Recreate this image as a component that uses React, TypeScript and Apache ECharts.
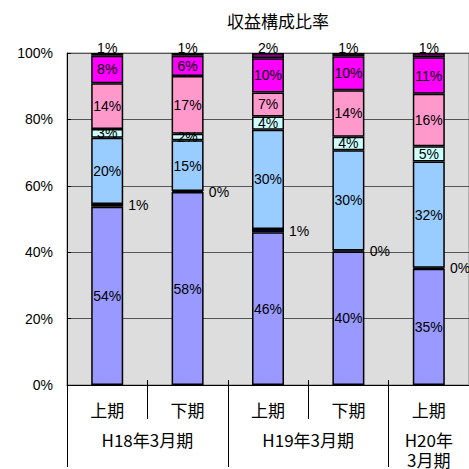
import React, { useEffect, useRef } from "react";
import * as echarts from "echarts";

const titleText = "収益構成比率";
const categories = ["上期", "下期", "上期", "下期", "上期"];
const groupNames = ["H18年3月期", "H19年3月期", "H20年\n3月期"];
const groupSpans = [2, 2, 1];

const seriesNames = ["区分A", "区分B", "区分C", "区分D", "区分E", "区分F", "区分G"];
const seriesColors = ["#9999FF", "#0000CC", "#99CCFF", "#CCFFFF", "#FF99CC", "#FF00FF", "#800080"];
const sA = [53.7, 58.1, 46.0, 40.2, 35.0];
const sB = [0.8, 0.3, 1.0, 0.3, 0.3];
const sC = [20.0, 15.3, 29.9, 30.2, 32.0];
const sD = [2.6, 2.0, 4.0, 4.1, 4.6];
const sE = [13.8, 17.4, 7.2, 14.0, 15.8];
const sF = [8.3, 6.1, 10.3, 10.2, 11.0];
const sG = [0.8, 0.8, 1.6, 1.0, 1.3];
const seriesValues = [sA, sB, sC, sD, sE, sF, sG];
const labelPositions = ["inside", "right", "inside", "inside", "inside", "inside", "top"];

const latin = '"Liberation Sans", Arial, "Noto Sans CJK JP", sans-serif';
const cjk = '"Noto Sans CJK JP", "Liberation Sans", sans-serif';

export default function App() {
  const ref = useRef<HTMLDivElement>(null);
  useEffect(() => {
    document.body.style.margin = "0";
    const chart = echarts.init(ref.current!, null, { renderer: "svg" });

    const groupBounds: number[] = [0];
    const groupCenters: number[] = [];
    let acc = 0;
    groupSpans.forEach((s) => {
      groupCenters.push(acc + s / 2);
      acc += s;
      groupBounds.push(acc);
    });

    const option: any = {
      animation: false,
      graphic: [
        {
          type: "text",
          x: 278,
          y: 20,
          style: {
            text: titleText,
            fontSize: 17,
            fontFamily: cjk,
            fill: "#000",
            textAlign: "center",
            textVerticalAlign: "middle",
          },
        },
      ],
      grid: {
        left: 67,
        top: 53,
        width: 405,
        height: 334,
        show: true,
        backgroundColor: "#DDDDDD",
        borderColor: "#808080",
        borderWidth: 1,
      },
      xAxis: [
        {
          type: "category",
          data: categories,
          position: "bottom",
          axisLine: { show: true, lineStyle: { color: "#000", width: 1 } },
          axisTick: { show: true, length: 34, lineStyle: { color: "#000", width: 1 } },
          axisLabel: { margin: 16, fontSize: 17, color: "#000", fontFamily: cjk },
          splitLine: { show: false },
          z: 5,
        },
        {
          type: "value",
          min: 0,
          max: acc,
          position: "bottom",
          axisLine: { show: false },
          splitLine: { show: false },
          axisTick: {
            show: true,
            customValues: groupBounds,
            length: 82,
            lineStyle: { color: "#000", width: 1 },
          },
          axisLabel: {
            customValues: groupCenters,
            formatter: (v: number) => {
              const i = groupCenters.findIndex((c) => Math.abs(c - v) < 1e-6);
              return i >= 0 ? groupNames[i] : "";
            },
            margin: 44,
            lineHeight: 20,
            fontSize: 17,
            color: "#000",
            fontFamily: cjk,
          },
        },
        {
          type: "category",
          data: categories,
          position: "bottom",
          axisLine: { show: false },
          axisTick: { show: true, inside: true, length: 5, lineStyle: { color: "#000", width: 1 } },
          axisLabel: { show: false },
          splitLine: { show: false },
        },
      ],
      yAxis: {
        type: "value",
        min: 0,
        max: 100,
        interval: 20,
        axisLine: { show: true, lineStyle: { color: "#000", width: 1 } },
        axisTick: { show: true, inside: true, length: 4, lineStyle: { color: "#000" } },
        axisLabel: {
          formatter: "{value}%",
          margin: 14,
          fontSize: 14,
          color: "#000",
          fontFamily: latin,
        },
        splitLine: { show: true, lineStyle: { color: "#555", width: 1 } },
      },
      series: seriesValues.map((vals, i) => ({
        name: seriesNames[i],
        type: "bar",
        stack: "total",
        xAxisIndex: 0,
        barWidth: 32,
        data: vals,
        itemStyle: { color: seriesColors[i], borderColor: "#000", borderWidth: 1.5 },
        label: {
          show: true,
          position: labelPositions[i],
          distance: labelPositions[i] === "top" ? -2 : 5,
          formatter: (p: any) => Math.round(p.value) + "%",
          fontSize: 14,
          color: "#000",
          fontFamily: latin,
        },
        z: 3,
      })),
    };
    chart.setOption(option);
    return () => chart.dispose();
  }, []);
  return <div ref={ref} style={{ width: 469, height: 469 }} />;
}
